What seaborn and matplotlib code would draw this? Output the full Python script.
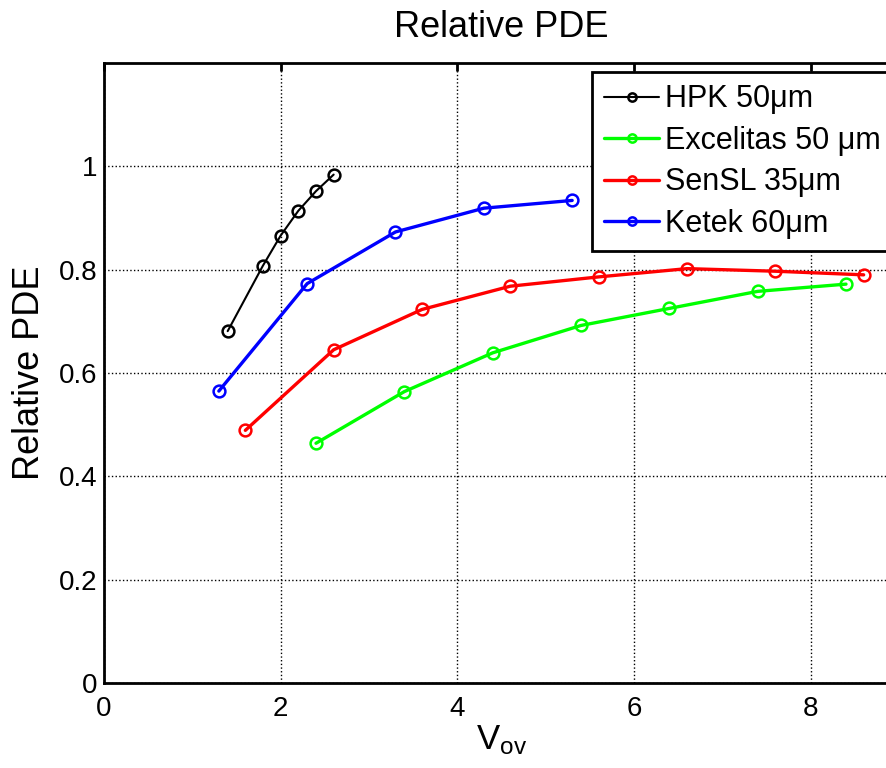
import matplotlib
matplotlib.use("Agg")
import matplotlib.pyplot as plt
import seaborn as sns

# Relative PDE vs overvoltage for four SiPM types
hpk_v = [1.4, 1.8, 2.0, 2.2, 2.4, 2.6]
hpk_pde = [0.681, 0.808, 0.866, 0.914, 0.952, 0.984]

excelitas_v = [2.4, 3.4, 4.4, 5.4, 6.4, 7.4, 8.4]
excelitas_pde = [0.464, 0.564, 0.639, 0.692, 0.725, 0.758, 0.772]

sensl_v = [1.6, 2.6, 3.6, 4.6, 5.6, 6.6, 7.6, 8.6]
sensl_pde = [0.489, 0.645, 0.723, 0.768, 0.786, 0.802, 0.797, 0.790]

ketek_v = [1.3, 2.3, 3.3, 4.3, 5.3]
ketek_pde = [0.565, 0.773, 0.873, 0.919, 0.934]

labels = ["HPK 50μm", "Excelitas 50 μm", "SenSL 35μm", "Ketek 60μm"]
colors = ["#000000", "#00ff00", "#ff0000", "#0000ff"]
widths = [1.5, 2.4, 2.4, 2.4]

sns.set_style("white")
plt.rcParams["font.family"] = ["Liberation Sans", "DejaVu Sans"]
plt.rcParams["mathtext.fontset"] = "custom"
plt.rcParams["mathtext.rm"] = "Liberation Sans"
plt.rcParams["mathtext.it"] = "Liberation Sans"
plt.rcParams["text.color"] = "black"
plt.rcParams["axes.labelcolor"] = "black"

fig = plt.figure(figsize=(8.86, 7.68), dpi=100)
# axes run past the right edge, as in the cropped original
ax = fig.add_axes([104 / 886, 85 / 768, 795 / 886, 620 / 768])

series = [
    (hpk_v, hpk_pde),
    (excelitas_v, excelitas_pde),
    (sensl_v, sensl_pde),
    (ketek_v, ketek_pde),
]
for (x, y), lab, col, lw in zip(series, labels, colors, widths):
    sns.lineplot(
        x=x, y=y, ax=ax, color=col, linewidth=lw, label=lab,
        marker="o", markersize=8.5, markerfacecolor="none",
        markeredgecolor=col, markeredgewidth=1.8,
    )

ax.set_xlim(0, 9)
ax.set_ylim(0, 1.2)
ax.set_xticks([0, 2, 4, 6, 8])
ax.set_yticks([0, 0.2, 0.4, 0.6, 0.8, 1.0])
ax.set_yticklabels(["0", "0.2", "0.4", "0.6", "0.8", "1"])

ax.grid(True, linestyle=":", color="black", linewidth=1.0)
for s in ax.spines.values():
    s.set_color("black")
    s.set_linewidth(2)
ax.tick_params(direction="in", length=6, width=2, labelsize=20,
               top=True, right=True, colors="black")
ax.tick_params(axis="x", pad=9)
ax.tick_params(axis="y", pad=5)

ax.set_title("Relative PDE", fontsize=26, pad=19)
ax.set_xlabel(r"V$_{\mathrm{ov}}$", fontsize=25, labelpad=1)
ax.set_ylabel("Relative PDE", fontsize=26, labelpad=8)

leg = ax.legend(loc="upper left", bbox_to_anchor=(0.614, 0.9855),
                borderaxespad=0, fontsize=22, frameon=True, fancybox=False,
                framealpha=1, edgecolor="black", markerscale=0.7,
                handlelength=1.8, handletextpad=0.2, labelspacing=0.38,
                borderpad=0.4)
leg.get_frame().set_linewidth(2)

fig.savefig("out.png", dpi=100)
